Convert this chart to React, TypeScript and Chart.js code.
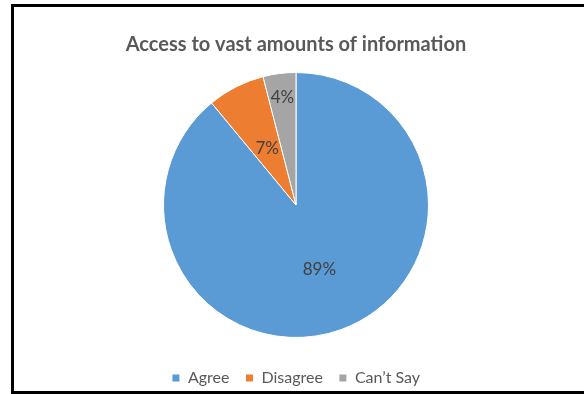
import React, { useEffect, useRef } from 'react';
import { Chart, registerables } from 'chart.js';

Chart.register(...registerables);

const TITLE = 'Access to vast amounts of information';
const categories = ['Agree', 'Disagree', 'Can\u2019t Say'];
const values = [89, 7, 4];
const colors = ['#5B9BD5', '#ED7D31', '#A5A5A5'];
const labelRadius = [0.52, 0.48, 0.82];

const FONT = 'Lato, "Open Sans", sans-serif';

const dataLabelPlugin = {
  id: 'pieDataLabels',
  afterDatasetsDraw(chart: any) {
    const meta = chart.getDatasetMeta(0);
    const ctx = chart.ctx;
    ctx.save();
    ctx.font = `17px ${FONT}`;
    ctx.fillStyle = '#404040';
    ctx.textAlign = 'center';
    ctx.textBaseline = 'middle';
    meta.data.forEach((arc: any, i: number) => {
      const p = arc.getProps(['x', 'y', 'startAngle', 'endAngle', 'outerRadius'], true);
      const mid = (p.startAngle + p.endAngle) / 2;
      const r = p.outerRadius * labelRadius[i];
      const x = p.x + Math.cos(mid) * r;
      const y = p.y + Math.sin(mid) * r;
      ctx.fillText(`${chart.data.datasets[0].data[i]}%`, x, y);
    });
    ctx.restore();
  },
};

export default function App() {
  const ref = useRef<HTMLCanvasElement | null>(null);

  useEffect(() => {
    if (!ref.current) return;
    const chart = new Chart(ref.current, {
      type: 'pie',
      data: {
        labels: categories,
        datasets: [
          {
            data: values,
            backgroundColor: colors,
            borderColor: '#ffffff',
            borderWidth: 1,
          },
        ],
      },
      options: {
        responsive: false,
        animation: false,
        devicePixelRatio: 1,
        layout: { padding: { left: 8, right: 0, top: 0, bottom: 0 } },
        plugins: {
          title: {
            display: true,
            text: TITLE,
            color: '#595959',
            font: { family: FONT, size: 20, weight: 'bold' },
            padding: { top: 33, bottom: 15 },
          },
          legend: {
            display: true,
            position: 'bottom',
            title: {
              display: true,
              text: '',
              font: { size: 1 },
              padding: { top: 14.8, bottom: 0 },
            },
            labels: {
              boxWidth: 8,
              boxHeight: 8,
              padding: 16,
              color: '#595959',
              font: { family: FONT, size: 16 },
            },
          },
          tooltip: { enabled: false },
        },
      },
      plugins: [dataLabelPlugin],
    });
    return () => chart.destroy();
  }, []);

  return (
    <div
      style={{
        position: 'absolute',
        left: 0,
        top: 0,
        width: 584,
        height: 394,
        overflow: 'hidden',
        background: '#ffffff',
      }}
    >
      <canvas ref={ref} width={584} height={396} style={{ display: 'block' }} />
      <div
        style={{
          position: 'absolute',
          left: 11,
          top: 4,
          width: 600,
          height: 390,
          boxSizing: 'border-box',
          border: '3px solid #000000',
          pointerEvents: 'none',
        }}
      />
    </div>
  );
}
